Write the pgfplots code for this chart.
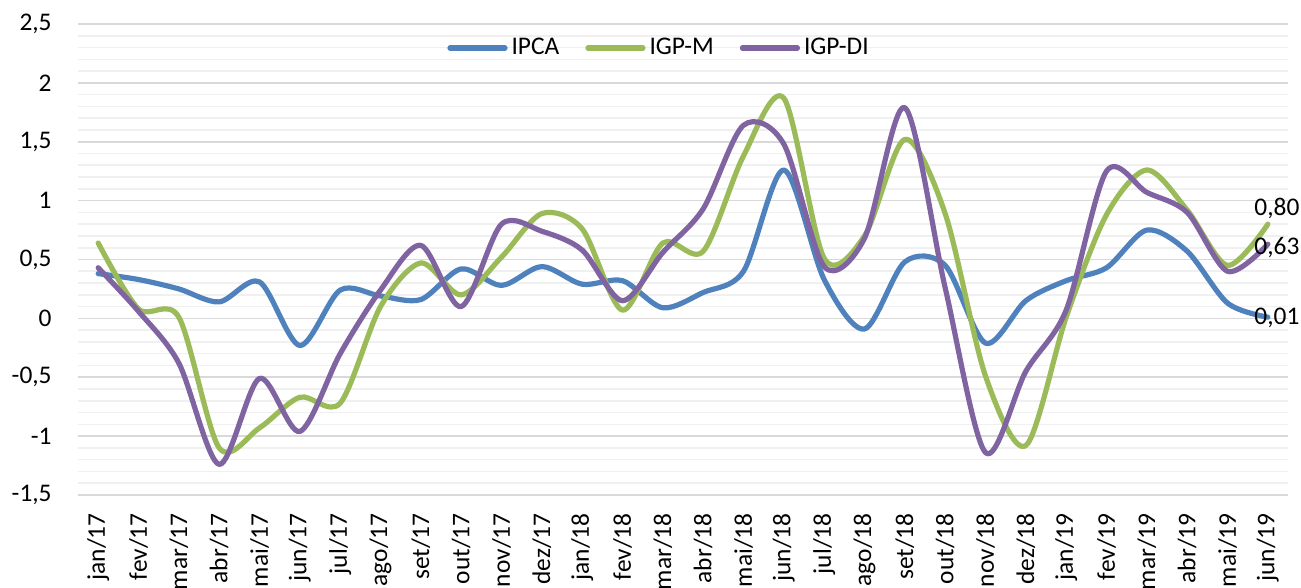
\documentclass[border=0pt]{standalone}
\usepackage{fontspec}
\setmainfont{Carlito}
\usepackage{pgfplots}
\pgfplotsset{compat=1.18}
\definecolor{ipca}{HTML}{4F81BD}
\definecolor{igpm}{HTML}{9BBB59}
\definecolor{igpdi}{HTML}{8064A2}
\newcommand{\chartfont}{\fontsize{12.7}{15}\selectfont}

\begin{document}
\begin{tikzpicture}
\begin{axis}[
    at={(0,0)}, anchor=south west,
    scale only axis, width=605pt, height=235.5pt,
    xmin=-0.5, xmax=29.5, ymin=-1.5, ymax=2.5,
    xtick={0,...,29},
    xticklabels={jan/17,fev/17,mar/17,abr/17,mai/17,jun/17,jul/17,ago/17,set/17,out/17,nov/17,dez/17,
                 jan/18,fev/18,mar/18,abr/18,mai/18,jun/18,jul/18,ago/18,set/18,out/18,nov/18,dez/18,
                 jan/19,fev/19,mar/19,abr/19,mai/19,jun/19},
    ytick={-1.5,-1,...,2.5},
    minor y tick num=4,
    ymajorgrids, yminorgrids,
    major grid style={draw=black!15, line width=0.8pt},
    minor grid style={draw=black!6, line width=0.8pt},
    axis line style={draw=none},
    tick style={draw=none},
    /pgf/number format/.cd, use comma, 1000 sep={}, assume math mode=true,
    /pgfplots/.cd,
    tick label style={font=\chartfont},
    xticklabel style={yshift=-9pt, rotate=90, anchor=east, inner sep=0pt},
    yticklabel style={anchor=east, inner sep=0pt, xshift=-13pt},
    every axis plot/.append style={line width=2.6pt, line cap=round, line join=round},
    legend columns=3,
    legend style={at={(0.481,0.949)}, anchor=center, draw=none, fill=none,
                  font=\chartfont, nodes={inner xsep=2pt},
                  /tikz/every even column/.append style={column sep=11pt}},
    legend image code/.code={\draw[#1] (0pt,0pt) -- (27.5pt,0pt);},
]
% IPCA
\addplot[ipca, smooth] coordinates {
  (0,0.38) (1,0.33) (2,0.25) (3,0.14) (4,0.31) (5,-0.23) (6,0.24) (7,0.19) (8,0.16) (9,0.42) (10,0.28) (11,0.44)
  (12,0.29) (13,0.32) (14,0.09) (15,0.22) (16,0.40) (17,1.26) (18,0.33) (19,-0.09) (20,0.48) (21,0.45) (22,-0.21) (23,0.15)
  (24,0.32) (25,0.43) (26,0.75) (27,0.57) (28,0.13) (29,0.01)
};
% IGP-M
\addplot[igpm, smooth] coordinates {
  (0,0.64) (1,0.08) (2,0.01) (3,-1.10) (4,-0.93) (5,-0.67) (6,-0.72) (7,0.10) (8,0.47) (9,0.20) (10,0.52) (11,0.89)
  (12,0.76) (13,0.07) (14,0.64) (15,0.57) (16,1.38) (17,1.87) (18,0.51) (19,0.70) (20,1.52) (21,0.89) (22,-0.49) (23,-1.08)
  (24,0.01) (25,0.88) (26,1.26) (27,0.92) (28,0.45) (29,0.80)
};
% IGP-DI
\addplot[igpdi, smooth] coordinates {
  (0,0.43) (1,0.06) (2,-0.38) (3,-1.24) (4,-0.51) (5,-0.96) (6,-0.30) (7,0.24) (8,0.62) (9,0.10) (10,0.80) (11,0.74)
  (12,0.58) (13,0.15) (14,0.56) (15,0.93) (16,1.64) (17,1.48) (18,0.44) (19,0.68) (20,1.79) (21,0.26) (22,-1.14) (23,-0.45)
  (24,0.07) (25,1.25) (26,1.07) (27,0.90) (28,0.40) (29,0.63)
};
\legend{IPCA,IGP-M,IGP-DI}
% data labels on the last month
\addplot[forget plot, draw=none, nodes near coords={0,80},
  every node near coord/.style={anchor=west, inner sep=0pt, xshift=-8pt, yshift=8pt, font=\chartfont}]
  coordinates {(29,0.80)};
\addplot[forget plot, draw=none, nodes near coords={0,63},
  every node near coord/.style={anchor=west, inner sep=0pt, xshift=-8pt, yshift=-1.5pt, font=\chartfont}]
  coordinates {(29,0.63)};
\addplot[forget plot, draw=none, nodes near coords={0,01},
  every node near coord/.style={anchor=west, inner sep=0pt, xshift=-8pt, yshift=-0.5pt, font=\chartfont}]
  coordinates {(29,0.01)};
\end{axis}
\pgfresetboundingbox
\path[use as bounding box] (-39pt,-46.5pt) rectangle (611.5pt,247.5pt);
\end{tikzpicture}
\end{document}
